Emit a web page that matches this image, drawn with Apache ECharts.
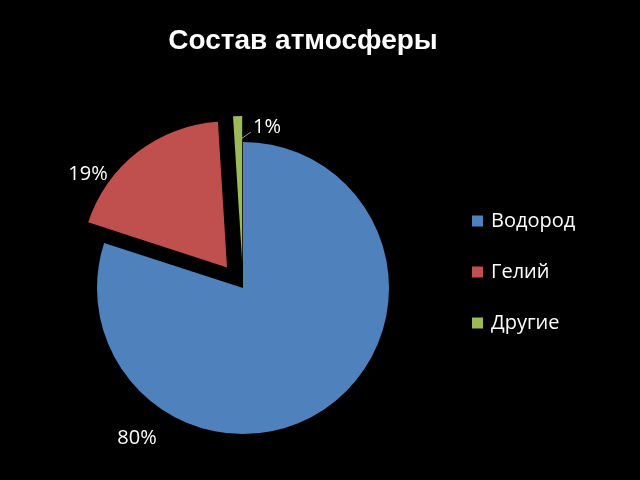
<!DOCTYPE html>
<html>
<head>
<meta charset="utf-8">
<script src="https://cdn.jsdelivr.net/npm/echarts@6/dist/echarts.min.js"></script>
<style>
  html, body { margin: 0; padding: 0; background: #000; }
  #chart { width: 640px; height: 480px; }
</style>
</head>
<body>
<div id="chart"></div>
<script>
var titleText = 'Состав атмосферы';
var categories = ['Водород', 'Гелий', 'Другие'];
var values = [80, 19, 1];
var colors = ['#4F81BD', '#C0504D', '#9BBB59'];
var exploded = [false, true, true];

// where Excel put each percent label (best fit)
var labelSpots = [[137, 438], [88, 174], [267, 127]];

var total = values.reduce(function (a, b) { return a + b; }, 0);

var pieData = categories.map(function (name, i) {
  return {
    name: name,
    value: values[i],
    selected: exploded[i],
    itemStyle: { color: colors[i] }
  };
});

var percentLabels = values.map(function (v, i) {
  return {
    type: 'text',
    x: labelSpots[i][0],
    y: labelSpots[i][1],
    silent: true,
    style: {
      text: Math.round(v / total * 100) + '%',
      fill: '#fff',
      font: '20px "Open Sans"',
      textAlign: 'center',
      textVerticalAlign: 'middle'
    }
  };
});

// leader line for the thin slice
percentLabels.push({
  type: 'line',
  silent: true,
  shape: { x1: 238, y1: 141, x2: 251, y2: 132 },
  style: { stroke: '#999', lineWidth: 1 }
});

var chart = echarts.init(document.getElementById('chart'));
chart.setOption({
  backgroundColor: '#000',
  animation: false,
  title: {
    text: titleText,
    left: 298,
    textAlign: 'center',
    top: 22,
    textStyle: { color: '#fff', fontFamily: 'Liberation Sans', fontWeight: 'bold', fontSize: 28 }
  },
  legend: {
    orient: 'vertical',
    left: 467,
    top: 206,
    itemWidth: 11,
    itemHeight: 11,
    itemGap: 31,
    icon: 'rect',
    selectedMode: false,
    data: categories,
    textStyle: { color: '#fff', fontFamily: 'Open Sans', fontSize: 20, padding: [0, 0, 0, 3] }
  },
  graphic: percentLabels,
  series: [{
    type: 'pie',
    center: [243, 288],
    radius: 146,
    startAngle: 90,
    clockwise: true,
    selectedMode: 'multiple',
    selectedOffset: 26,
    emphasis: { scale: false },
    label: { show: false },
    labelLine: { show: false },
    data: pieData
  }]
});
</script>
</body>
</html>
